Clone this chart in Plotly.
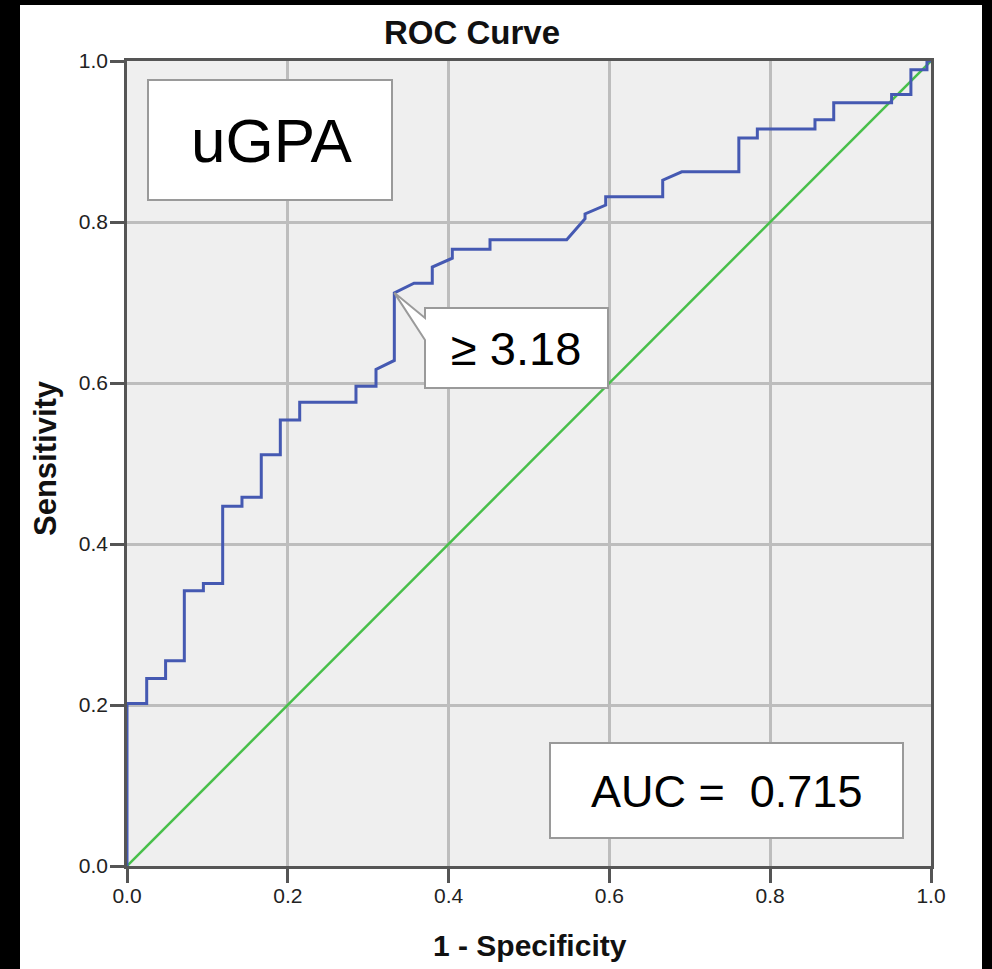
import plotly.graph_objects as go

# ---- data ----
fpr = [0.0, 0.0, 0.0245, 0.0245, 0.048, 0.048, 0.0713, 0.0713, 0.095, 0.095,
       0.119, 0.119, 0.143, 0.143, 0.167, 0.167, 0.1907, 0.1907, 0.2148, 0.2148,
       0.2848, 0.2848, 0.3097, 0.3097, 0.3325, 0.3325, 0.357, 0.3797, 0.3797, 0.4046,
       0.4046, 0.4515, 0.4515, 0.5469, 0.5697, 0.5697, 0.5954, 0.5954, 0.6663, 0.6663,
       0.69, 0.761, 0.761, 0.784, 0.784, 0.8557, 0.8557, 0.879, 0.879, 0.951,
       0.951, 0.975, 0.975, 0.995, 0.995, 1.0]
tpr = [0.0, 0.202, 0.202, 0.233, 0.233, 0.255, 0.255, 0.342, 0.342, 0.351,
       0.351, 0.447, 0.447, 0.458, 0.458, 0.511, 0.511, 0.554, 0.554, 0.576,
       0.576, 0.596, 0.596, 0.617, 0.628, 0.712, 0.724, 0.724, 0.744, 0.755,
       0.766, 0.766, 0.778, 0.778, 0.804, 0.810, 0.821, 0.8315, 0.8315, 0.852,
       0.8624, 0.8624, 0.9045, 0.9045, 0.9155, 0.9155, 0.927, 0.927, 0.948, 0.948,
       0.9585, 0.9585, 0.989, 0.989, 1.0, 1.0]
ref_x = [0.0, 1.0]
ref_y = [0.0, 1.0]
cutoff_index = 25          # point labelled by the callout
cutoff_label = "\u2265 3.18"
auc_label = "AUC =  0.715"
model_label = "uGPA"
tick_vals = [0.0, 0.2, 0.4, 0.6, 0.8, 1.0]
tick_text = ["0.0", "0.2", "0.4", "0.6", "0.8", "1.0"]

# ---- layout geometry (pixels) ----
W, H = 992, 969
L, R, T, B = 127, 931, 61, 866


def px(x):
    return (x - L) / (R - L)


def py(y):
    return (B - y) / (B - T)


FONT = "Liberation Sans, Arial, sans-serif"

fig = go.Figure()
fig.add_trace(go.Scatter(x=ref_x, y=ref_y, mode="lines",
                         line=dict(color="#48bf4a", width=2.5), hoverinfo="skip"))
fig.add_trace(go.Scatter(x=fpr, y=tpr, mode="lines",
                         line=dict(color="#4559b2", width=3), hoverinfo="skip"))

axis_common = dict(range=[0, 1], tickvals=tick_vals, ticktext=tick_text,
                   showgrid=True, gridcolor="#bdbdbd", gridwidth=2.5,
                   zeroline=False, showline=True, linecolor="#555555", linewidth=2.5,
                   mirror=True, ticks="outside", ticklen=14, tickwidth=2.5,
                   tickcolor="#555555",
                   tickfont=dict(family=FONT, size=21, color="#222222"),
                   fixedrange=True)

fig.update_layout(
    width=W, height=H,
    margin=dict(l=L, r=W - R, t=T, b=H - B, pad=0),
    paper_bgcolor="white", plot_bgcolor="#efefef",
    showlegend=False,
    xaxis=dict(**axis_common, ticklabelstandoff=-5),
    yaxis=dict(**axis_common, ticklabelstandoff=-2),
)

shapes = []
# black frame around the figure
for (x0, y0, x1, y1) in [(0, 0, 20, H), (982, 0, W, H), (0, 0, W, 5)]:
    shapes.append(dict(type="rect", xref="paper", yref="paper",
                       x0=px(x0), x1=px(x1), y0=py(y1), y1=py(y0),
                       fillcolor="black", line=dict(width=0), layer="above"))
# uGPA box
shapes.append(dict(type="rect", xref="paper", yref="paper",
                   x0=px(148), x1=px(392), y0=py(200), y1=py(80),
                   fillcolor="white", line=dict(color="#9a9a9a", width=2)))
# AUC box
shapes.append(dict(type="rect", xref="paper", yref="paper",
                   x0=px(550), x1=px(903), y0=py(838), y1=py(743),
                   fillcolor="white", line=dict(color="#9a9a9a", width=2)))
# callout box with pointer to the cut-off point
tipx, tipy = fpr[cutoff_index], tpr[cutoff_index]
bx0, bx1, by0, by1 = px(425), px(608), py(388), py(308)
path = (f"M {bx0},{py(318)} L {bx0},{by1} L {bx1},{by1} L {bx1},{by0} "
        f"L {bx0},{by0} L {bx0},{py(340)} L {tipx},{tipy} Z")
shapes.append(dict(type="path", xref="paper", yref="paper", path=path,
                   fillcolor="white", line=dict(color="#9a9a9a", width=2)))
fig.update_layout(shapes=shapes)

ann = []
ann.append(dict(text="<b>ROC Curve</b>", x=px(472), y=py(33), xref="paper", yref="paper",
                showarrow=False, xanchor="center", yanchor="middle",
                font=dict(family=FONT, size=33, color="#111111")))
ann.append(dict(text="<b>1 - Specificity</b>", x=px(530), y=py(945), xref="paper", yref="paper",
                showarrow=False, xanchor="center", yanchor="middle",
                font=dict(family=FONT, size=30, color="#111111")))
ann.append(dict(text="<b>Sensitivity</b>", x=px(45), y=py(458), xref="paper", yref="paper",
                showarrow=False, xanchor="center", yanchor="middle", textangle=-90,
                font=dict(family=FONT, size=31, color="#111111")))
ann.append(dict(text=model_label, x=px(271), y=py(140), xref="paper", yref="paper",
                showarrow=False, xanchor="center", yanchor="middle",
                font=dict(family=FONT, size=62, color="black")))
ann.append(dict(text=cutoff_label, x=px(516), y=py(348), xref="paper", yref="paper",
                showarrow=False, xanchor="center", yanchor="middle",
                font=dict(family=FONT, size=47, color="black")))
ann.append(dict(text=auc_label, x=px(726), y=py(791), xref="paper", yref="paper",
                showarrow=False, xanchor="center", yanchor="middle",
                font=dict(family=FONT, size=45, color="black")))
fig.update_layout(annotations=ann)

fig.write_html("out.html")
